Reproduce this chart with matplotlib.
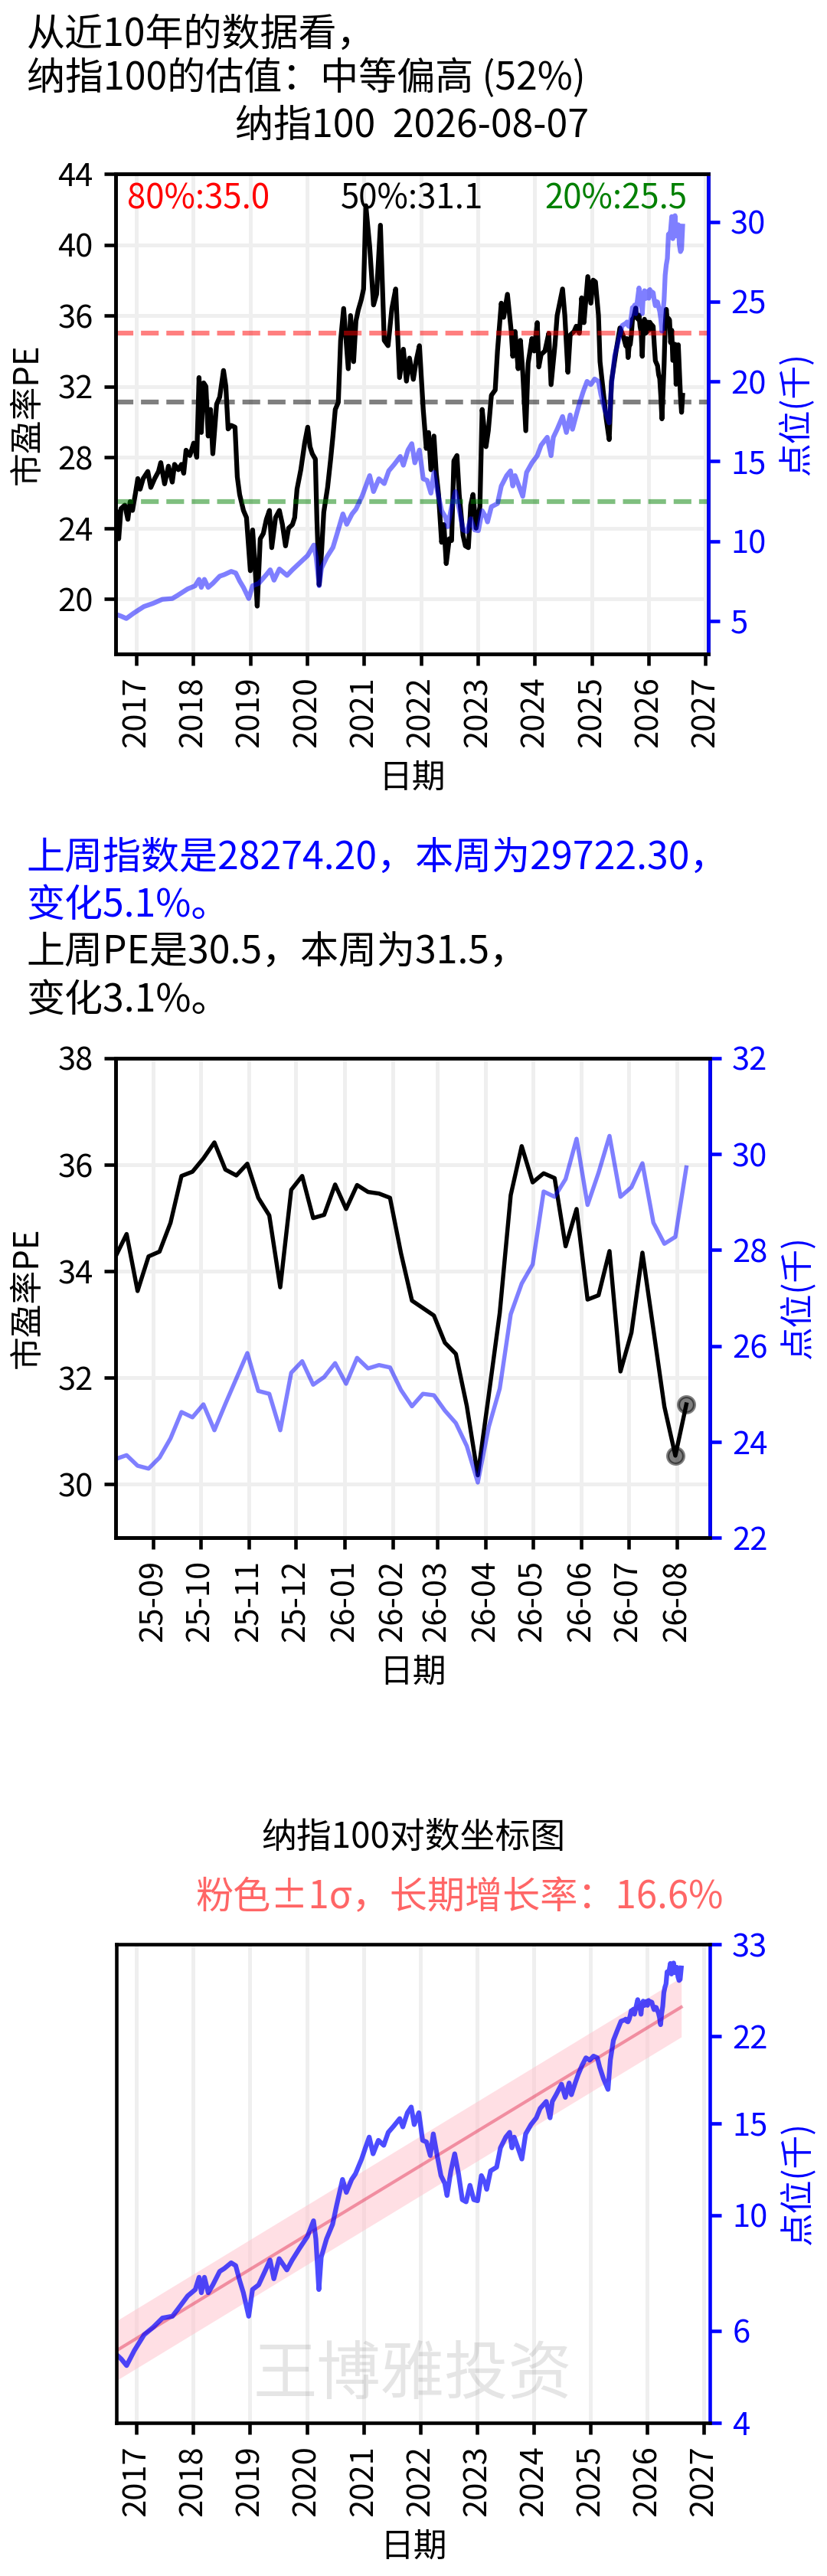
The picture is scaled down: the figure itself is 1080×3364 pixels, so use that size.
import numpy as np
import pandas as pd
import matplotlib
matplotlib.use('Agg')
import matplotlib.pyplot as plt
import matplotlib.dates as mdates
from matplotlib.ticker import NullLocator

plt.rcParams['font.family'] = ['Noto Sans CJK SC', 'DejaVu Sans']
plt.rcParams['axes.unicode_minus'] = False

# ---------------- data ----------------
# long history of PE (decimal year, value)
hist_pe_year = [
    2016.651, 2016.691, 2016.731, 2016.798, 2016.852, 2016.892, 2016.933, 2016.987, 2017.027, 2017.067,
    2017.121, 2017.202, 2017.255, 2017.323, 2017.390, 2017.430, 2017.497, 2017.565, 2017.632, 2017.672,
    2017.739, 2017.793, 2017.833, 2017.874, 2017.941, 2018.008, 2018.062, 2018.102, 2018.142, 2018.183,
    2018.223, 2018.263, 2018.304, 2018.344, 2018.411, 2018.465, 2018.532, 2018.573, 2018.613, 2018.667,
    2018.734, 2018.774, 2018.815, 2018.882, 2018.935, 2019.003, 2019.043, 2019.083, 2019.124, 2019.177,
    2019.231, 2019.285, 2019.339, 2019.379, 2019.446, 2019.513, 2019.567, 2019.621, 2019.675, 2019.742,
    2019.782, 2019.823, 2019.890, 2019.957, 2020.011, 2020.051, 2020.091, 2020.145, 2020.172, 2020.212,
    2020.253, 2020.293, 2020.360, 2020.414, 2020.454, 2020.495, 2020.548, 2020.589, 2020.642, 2020.723,
    2020.763, 2020.817, 2020.858, 2020.898, 2020.952, 2020.992, 2021.032, 2021.099, 2021.167, 2021.220,
    2021.288, 2021.355, 2021.422, 2021.489, 2021.556, 2021.624, 2021.691, 2021.745, 2021.798, 2021.866,
    2021.919, 2021.973, 2022.040, 2022.094, 2022.134, 2022.175, 2022.228, 2022.269, 2022.309, 2022.363,
    2022.403, 2022.444, 2022.497, 2022.538, 2022.578, 2022.632, 2022.672, 2022.739, 2022.780, 2022.833,
    2022.874, 2022.914, 2022.968, 2023.035, 2023.075, 2023.142, 2023.183, 2023.237, 2023.304, 2023.344,
    2023.411, 2023.452, 2023.519, 2023.586, 2023.613, 2023.653, 2023.707, 2023.747, 2023.788, 2023.841,
    2023.882, 2023.949, 2023.989, 2024.043, 2024.070, 2024.110, 2024.177, 2024.245, 2024.285, 2024.352,
    2024.392, 2024.487, 2024.527, 2024.581, 2024.621, 2024.688, 2024.728, 2024.782, 2024.823, 2024.863,
    2024.930, 2024.984, 2025.024, 2025.065, 2025.118, 2025.145, 2025.199, 2025.253, 2025.306, 2025.347,
    2025.427, 2025.495, 2025.548,
]
hist_pe = [
    24.9, 23.4, 25.1, 25.3, 24.5, 25.5, 25.0, 26.0, 26.8, 26.2,
    26.8, 27.2, 26.3, 26.8, 27.2, 27.7, 26.5, 27.5, 26.6, 27.6,
    27.3, 27.6, 27.1, 28.4, 28.1, 28.8, 28.0, 32.5, 29.4, 32.2,
    32.0, 29.2, 30.7, 28.2, 31.0, 31.4, 32.9, 32.0, 29.6, 29.8,
    29.7, 26.9, 25.9, 25.0, 24.6, 21.6, 23.9, 22.0, 19.6, 23.4,
    23.7, 24.5, 25.0, 22.9, 24.6, 25.0, 24.2, 23.0, 24.0, 24.2,
    24.6, 26.2, 27.3, 28.8, 29.7, 28.6, 28.2, 27.9, 24.5, 20.8,
    22.6, 24.9, 26.3, 27.9, 29.2, 30.7, 31.1, 34.6, 36.4, 33.0,
    36.0, 33.4, 35.7, 36.3, 36.9, 37.5, 42.2, 39.9, 36.6, 37.2,
    41.1, 34.6, 34.3, 36.4, 37.5, 32.5, 34.1, 32.3, 33.6, 32.4,
    33.5, 34.3, 30.7, 28.5, 29.4, 27.3, 29.2, 27.1, 25.9, 23.2,
    24.2, 22.0, 23.4, 23.3, 27.8, 28.1, 25.9, 23.6, 23.0, 22.9,
    25.3, 25.9, 24.0, 25.2, 30.7, 28.6, 29.5, 31.5, 31.8, 34.0,
    36.7, 35.9, 37.2, 35.1, 33.7, 35.1, 33.0, 34.6, 32.8, 29.5,
    33.3, 34.7, 34.0, 35.6, 33.1, 33.8, 34.0, 35.0, 32.1, 34.3,
    36.0, 37.5, 36.0, 32.8, 34.9, 35.1, 35.4, 35.0, 37.0, 35.6,
    38.2, 36.7, 38.0, 37.9, 36.0, 33.4, 31.8, 30.2, 29.0, 32.3,
    34.0, 35.3, 34.9,
]
# long history of the index, thousands of points
hist_idx_year = [
    2016.651, 2016.731, 2016.825, 2016.960, 2017.134, 2017.296, 2017.457, 2017.632, 2017.726, 2017.901,
    2018.035, 2018.102, 2018.142, 2018.196, 2018.263, 2018.344, 2018.465, 2018.546, 2018.667, 2018.747,
    2018.815, 2018.882, 2018.976, 2019.043, 2019.151, 2019.285, 2019.352, 2019.419, 2019.513, 2019.648,
    2019.742, 2019.876, 2020.011, 2020.118, 2020.159, 2020.212, 2020.253, 2020.347, 2020.454, 2020.522,
    2020.629, 2020.696, 2020.790, 2020.858, 2020.965, 2021.032, 2021.099, 2021.167, 2021.261, 2021.355,
    2021.435, 2021.530, 2021.637, 2021.691, 2021.772, 2021.839, 2021.892, 2021.973, 2022.040, 2022.108,
    2022.175, 2022.228, 2022.296, 2022.363, 2022.430, 2022.470, 2022.538, 2022.605, 2022.672, 2022.739,
    2022.806, 2022.874, 2022.941, 2023.008, 2023.075, 2023.142, 2023.169, 2023.237, 2023.344, 2023.411,
    2023.505, 2023.573, 2023.613, 2023.653, 2023.720, 2023.788, 2023.855, 2023.949, 2024.043, 2024.110,
    2024.218, 2024.285, 2024.325, 2024.392, 2024.487, 2024.554, 2024.621, 2024.661, 2024.728, 2024.782,
    2024.849, 2024.917, 2024.984, 2025.051, 2025.118, 2025.159, 2025.226, 2025.306, 2025.347, 2025.401,
    2025.468, 2025.535,
]
hist_idx = [
    5.4, 5.3, 5.15, 5.5, 5.9, 6.1, 6.35, 6.4, 6.6, 7.0,
    7.2, 7.6, 7.1, 7.6, 7.1, 7.35, 7.8, 7.9, 8.1, 8.0,
    7.5, 7.1, 6.4, 7.2, 7.35, 7.9, 8.2, 7.55, 8.25, 7.85,
    8.2, 8.65, 9.1, 9.75, 9.0, 7.2, 8.3, 9.0, 9.6, 10.4,
    11.7, 11.05, 11.7, 12.0, 12.8, 13.45, 14.1, 13.1, 13.9, 13.6,
    14.4, 14.8, 15.3, 14.75, 15.7, 16.1, 14.9, 15.7, 13.9, 13.8,
    13.0, 14.3, 13.0, 11.9, 11.5, 10.9, 12.15, 13.1, 12.0, 10.7,
    10.6, 11.4, 10.7, 10.65, 11.9, 11.5, 11.2, 12.15, 12.35, 13.45,
    14.1, 14.4, 13.45, 14.1, 13.45, 12.8, 14.3, 14.9, 15.35, 16.0,
    16.5, 15.35, 16.5, 17.0, 17.8, 16.8, 17.9, 17.0, 17.9, 18.6,
    19.35, 20.0, 19.8, 20.15, 20.0, 19.2, 18.25, 17.4, 19.8, 21.6,
    22.55, 23.5,
]
# last 53 weeks (weekly, Fridays)
week_start = '2025-08-08'
week_pe = [
    34.28, 34.70, 33.63, 34.28, 34.37, 34.91, 35.79, 35.87, 36.12, 36.42,
    35.91, 35.80, 36.02, 35.38, 35.05, 33.70, 35.53, 35.79, 35.00, 35.06,
    35.63, 35.17, 35.62, 35.49, 35.46, 35.38, 34.34, 33.45, 33.31, 33.17,
    32.66, 32.45, 31.47, 30.17, 31.68, 33.22, 35.43, 36.35, 35.67, 35.84,
    35.75, 34.47, 35.17, 33.47, 33.55, 34.38, 32.12, 32.85, 34.35, 32.91,
    31.46, 30.54, 31.50,
]
week_idx = [
    23.64, 23.72, 23.50, 23.44, 23.67, 24.07, 24.62, 24.51, 24.78, 24.24,
    24.79, 25.32, 25.85, 25.06, 25.00, 24.24, 25.44, 25.68, 25.19, 25.35,
    25.64, 25.21, 25.75, 25.53, 25.60, 25.55, 25.08, 24.74, 25.00, 24.97,
    24.65, 24.39, 23.91, 23.15, 24.31, 25.11, 26.66, 27.30, 27.70, 29.22,
    29.11, 29.48, 30.32, 28.94, 29.61, 30.38, 29.11, 29.31, 29.81, 28.57,
    28.13, 28.2742, 29.7223,
]
pct_labels = ['80%', '50%', '20%']
pct_values = [35.0, 31.1, 25.5]
pct_colors = ['red', 'black', 'green']
report_date = '2026-08-07'
index_name = '纳指100'
pe_rank = 52
valuation = '中等偏高'
growth_rate = 16.6
year_ticks = list(range(2017, 2028))
pe_ticks_1 = [20, 24, 28, 32, 36, 40, 44]
idx_ticks_1 = [5, 10, 15, 20, 25, 30]
pe_ticks_2 = [30, 32, 34, 36, 38]
idx_ticks_2 = [22, 24, 26, 28, 30, 32]
log_ticks = [4, 6, 10, 15, 22, 33]


def yr2date(arr):
    arr = np.asarray(arr, dtype=float)
    return pd.Timestamp('2017-01-01') + pd.to_timedelta((arr - 2017.0) * 365.25, unit='D')


def date2yr(d):
    return 2017.0 + (d - pd.Timestamp('2017-01-01')).days / 365.25


week_dates = pd.date_range(week_start, periods=len(week_pe), freq='7D')
pe_dates = yr2date(hist_pe_year).append(week_dates)
pe_all = np.array(hist_pe + week_pe)
idx_dates = yr2date(hist_idx_year).append(week_dates)
idx_all = np.array(hist_idx + week_idx)
idx_t = np.concatenate([np.asarray(hist_idx_year), np.asarray(date2yr(week_dates))])

W, H = 1080, 3364
fig = plt.figure(figsize=(W / 300, H / 300), dpi=300)


def frac_box(l, r, t, b):
    return [l / W, 1 - b / H, (r - l) / W, (b - t) / H]


TICK = 10
LAB = 10.5
SPW = 1.1
GRID = '#efefef'


def style_axes(ax):
    for s in ax.spines.values():
        s.set_linewidth(SPW)
    ax.tick_params(width=SPW, length=3.5, labelsize=TICK)


year_dates = [pd.Timestamp(f'{y}-01-01') for y in year_ticks]

# ---------------- chart 1 ----------------
ax1 = fig.add_axes(frac_box(151, 925, 227, 854))
ax1.plot(pe_dates, pe_all, color='black', lw=1.5)
for v, c in zip(pct_values, pct_colors):
    ax1.axhline(v, color=c, alpha=0.5, ls='--', lw=1.5)
ax1.set_ylim(16.9, 44.0)
ax1.set_yticks(pe_ticks_1)
ax1.set_xlim(yr2date([2016.637])[0], yr2date([2027.047])[0])
ax1.set_xticks(year_dates)
ax1.set_xticklabels([str(y) for y in year_ticks], rotation=90)
ax1.grid(True, color=GRID, lw=1.2)
ax1.set_axisbelow(True)
ax1.set_ylabel('市盈率PE', fontsize=LAB)
ax1.set_xlabel('日期', fontsize=LAB)
style_axes(ax1)
ax1.text(0.02, 0.985, f'{pct_labels[0]}:{pct_values[0]:.1f}', color=pct_colors[0],
         transform=ax1.transAxes, ha='left', va='top', fontsize=LAB)
ax1.text(0.5, 0.985, f'{pct_labels[1]}:{pct_values[1]:.1f}', color=pct_colors[1],
         transform=ax1.transAxes, ha='center', va='top', fontsize=LAB)
ax1.text(0.965, 0.985, f'{pct_labels[2]}:{pct_values[2]:.1f}', color=pct_colors[2],
         transform=ax1.transAxes, ha='right', va='top', fontsize=LAB)
tw1 = ax1.twinx()
tw1.plot(idx_dates, idx_all, color='blue', alpha=0.5, lw=1.5)
tw1.set_ylim(2.93, 33.0)
tw1.set_yticks(idx_ticks_1)
tw1.set_ylabel('点位(千)', color='blue', fontsize=LAB)
style_axes(tw1)
tw1.tick_params(axis='y', colors='blue')
tw1.spines['right'].set_color('blue')

# ---------------- chart 2 ----------------
ax2 = fig.add_axes(frac_box(151, 927, 1382, 2008))
ax2.plot(week_dates, week_pe, color='black', lw=1.3)
ax2.plot(week_dates[-2:], week_pe[-2:], 'o', color='black', alpha=0.5, ms=5, ls='none')
ax2.set_ylim(29, 38)
ax2.set_yticks(pe_ticks_2)
ax2.set_xlim(pd.Timestamp(week_start), week_dates[-1] + pd.Timedelta(days=15))
ax2.xaxis.set_major_locator(mdates.MonthLocator())
ax2.xaxis.set_major_formatter(mdates.DateFormatter('%y-%m'))
plt.setp(ax2.get_xticklabels(), rotation=90)
ax2.grid(True, color=GRID, lw=1.2)
ax2.set_axisbelow(True)
ax2.set_ylabel('市盈率PE', fontsize=LAB)
ax2.set_xlabel('日期', fontsize=LAB)
style_axes(ax2)
tw2 = ax2.twinx()
tw2.plot(week_dates, week_idx, color='blue', alpha=0.5, lw=1.3)
tw2.set_ylim(22, 32)
tw2.set_yticks(idx_ticks_2)
tw2.set_ylabel('点位(千)', color='blue', fontsize=LAB)
style_axes(tw2)
tw2.tick_params(axis='y', colors='blue')
tw2.spines['right'].set_color('blue')

# ---------------- chart 3 ----------------
dt = np.gradient(idx_t)
logv = np.log(idx_all)
coef = np.polyfit(idx_t, logv, 1, w=np.sqrt(dt))
fit = np.polyval(coef, idx_t)
sigma = np.sqrt(np.sum(dt * (logv - fit) ** 2) / np.sum(dt))

ax3 = fig.add_axes(frac_box(152, 927, 2539, 3164))
ax3.fill_between(idx_dates, np.exp(fit - sigma), np.exp(fit + sigma), color='pink', alpha=0.5, lw=0)
ax3.plot(idx_dates, np.exp(fit), color='crimson', alpha=0.4, lw=1.0)
ax3.plot(idx_dates, idx_all, color='blue', alpha=0.7, lw=1.5)
ax3.set_yscale('log')
ax3.set_ylim(4, 33)
ax3.yaxis.tick_right()
ax3.yaxis.set_label_position('right')
ax3.set_yticks(log_ticks)
ax3.set_yticklabels([str(v) for v in log_ticks])
ax3.yaxis.set_minor_locator(NullLocator())
ax3.set_xlim(yr2date([2016.645])[0], yr2date([2027.10])[0])
ax3.set_xticks(year_dates)
ax3.set_xticklabels([str(y) for y in year_ticks], rotation=90)
ax3.grid(True, axis='x', color=GRID, lw=1.2)
ax3.set_axisbelow(True)
ax3.set_xlabel('日期', fontsize=LAB)
ax3.set_ylabel('点位(千)', color='blue', fontsize=LAB)
style_axes(ax3)
ax3.tick_params(axis='y', colors='blue')
ax3.spines['right'].set_color('blue')
ax3.text(0.5, 0.1, '王博雅投资', transform=ax3.transAxes, ha='center', va='center',
         fontsize=20, color='gray', alpha=0.2)

# ---------------- texts ----------------
fig.text(35 / W, 1 - 46 / H, '从近10年的数据看，', fontsize=12, va='center', ha='left')
fig.text(35 / W, 1 - 103 / H, f'{index_name}的估值：{valuation} ({pe_rank}%)', fontsize=12,
         va='center', ha='left')
fig.text(538 / W, 1 - 165 / H, f'{index_name}  {report_date}', fontsize=12, va='center', ha='center')

prev_i, cur_i = week_idx[-2] * 1000, week_idx[-1] * 1000
prev_p, cur_p = week_pe[-2], week_pe[-1]
fig.text(34 / W, 1 - 1121 / H, f'上周指数是{prev_i:.2f}，本周为{cur_i:.2f}，', color='blue',
         fontsize=12, va='center')
fig.text(34 / W, 1 - 1183 / H, f'变化{(cur_i / prev_i - 1) * 100:.1f}%。', color='blue',
         fontsize=12, va='center')
fig.text(34 / W, 1 - 1245 / H, f'上周PE是{prev_p:.1f}，本周为{cur_p:.1f}，', color='black',
         fontsize=12, va='center')
fig.text(34 / W, 1 - 1307 / H, f'变化{(cur_p / prev_p - 1) * 100:.1f}%。', color='black',
         fontsize=12, va='center')

fig.text(540 / W, 1 - 2400 / H, f'{index_name}对数坐标图', fontsize=11, ha='center', va='center')
fig.text(600 / W, 1 - 2478 / H, f'粉色±1σ，长期增长率：{growth_rate:.1f}%', fontsize=11.8,
         ha='center', va='center', color='red', alpha=0.6)

fig.savefig('out.png', dpi=300)
